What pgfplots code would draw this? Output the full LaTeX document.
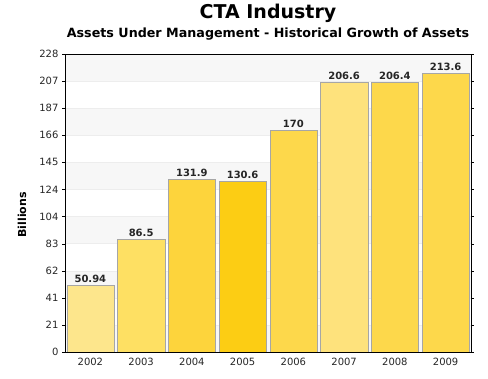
\documentclass[border=0pt]{standalone}
\usepackage{pgfplots}
\pgfplotsset{compat=1.18}
\usepackage{fontspec}
\setmainfont{DejaVu Sans}
\definecolor{c1}{HTML}{FDE68C}
\definecolor{c2}{HTML}{FEE063}
\definecolor{c3}{HTML}{FDD43C}
\definecolor{c4}{HTML}{FCCD14}
\definecolor{c5}{HTML}{FDD84B}
\definecolor{c6}{HTML}{FEE27C}
\definecolor{c7}{HTML}{FDD84B}
\definecolor{c8}{HTML}{FDD84B}
\definecolor{band}{HTML}{F7F7F7}
\begin{document}
\begin{tikzpicture}[x=1pt,y=1pt]
\useasboundingbox (0,0) rectangle (488,379);
\node[font=\bfseries\fontsize{19}{22}\selectfont] at (268,366) {CTA Industry};
\node[font=\bfseries\fontsize{12.7}{15}\selectfont] at (268,345) {Assets Under Management - Historical Growth of Assets};
\node[font=\bfseries\fontsize{11}{13}\selectfont, rotate=90] at (22,164) {Billions};
\begin{axis}[
  at={(65pt,27pt)}, anchor=south west,
  width=406pt, height=298pt, scale only axis,
  xmin=-0.5, xmax=7.5, ymin=0, ymax=228,
  xtick={0,...,7},
  xticklabels={2002,2003,2004,2005,2006,2007,2008,2009},
  ytick={0,20.727,41.455,62.182,82.909,103.636,124.364,145.091,165.818,186.545,207.273,228},
  yticklabels={0,21,41,62,83,104,124,145,166,187,207,228},
  tick label style={font=\fontsize{10}{11}\selectfont, color=black!85},
  /pgf/number format/assume math mode=true,
  major tick length=3pt,
  xtick style={draw=none},
  ytick style={black},
  tick align=outside,
  axis line style={black, line width=0.8pt},
  ybar, bar width=0.93, bar shift=0pt,
  nodes near coords,
  every node near coord/.append style={font=\bfseries\fontsize{10}{11}\selectfont, color=black!85, yshift=-1pt},
  clip=false,
  axis on top,
]
\fill[band] (axis cs:-0.5,0) rectangle (axis cs:7.5,20.727);
\fill[band] (axis cs:-0.5,41.455) rectangle (axis cs:7.5,62.182);
\fill[band] (axis cs:-0.5,82.909) rectangle (axis cs:7.5,103.636);
\fill[band] (axis cs:-0.5,124.364) rectangle (axis cs:7.5,145.091);
\fill[band] (axis cs:-0.5,165.818) rectangle (axis cs:7.5,186.545);
\fill[band] (axis cs:-0.5,207.273) rectangle (axis cs:7.5,228);
\pgfplotsinvokeforeach{20.727,41.455,62.182,82.909,103.636,124.364,145.091,165.818,186.545,207.273}{
  \draw[black!7] (axis cs:-0.5,#1) -- (axis cs:7.5,#1);
}
\addplot[fill=c1, draw=black!35] coordinates {(0,50.94)};
\addplot[fill=c2, draw=black!35] coordinates {(1,86.5)};
\addplot[fill=c3, draw=black!35] coordinates {(2,131.9)};
\addplot[fill=c4, draw=black!35] coordinates {(3,130.6)};
\addplot[fill=c5, draw=black!35] coordinates {(4,170)};
\addplot[fill=c6, draw=black!35] coordinates {(5,206.6)};
\addplot[fill=c7, draw=black!35] coordinates {(6,206.4)};
\addplot[fill=c8, draw=black!35] coordinates {(7,213.6)};
\end{axis}
\end{tikzpicture}
\end{document}
